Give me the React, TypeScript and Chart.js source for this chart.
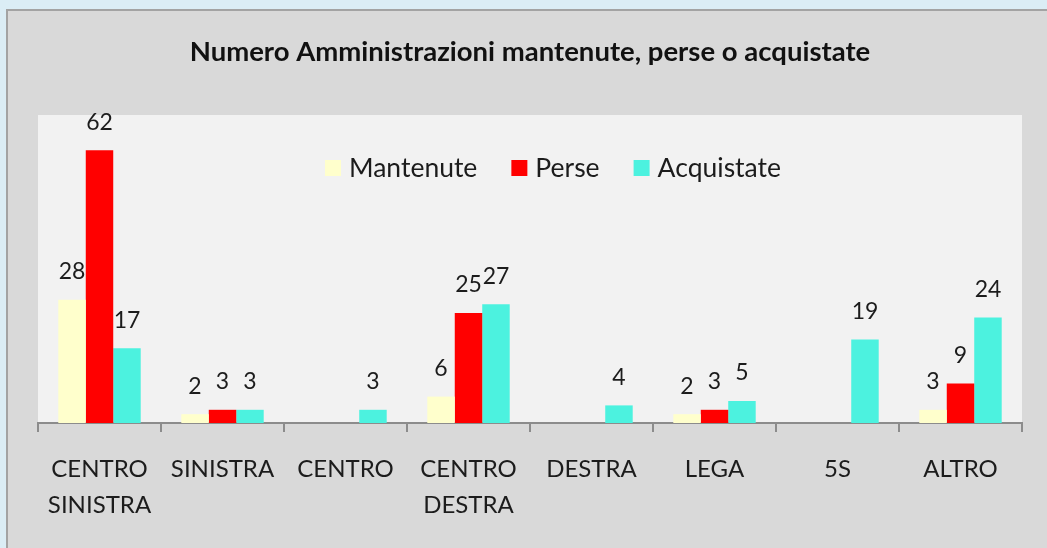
import React, { useEffect, useRef } from "react";
import { Chart, registerables } from "chart.js";

Chart.register(...registerables);

const categories: string[][] = [
  ["CENTRO", "SINISTRA"],
  ["SINISTRA"],
  ["CENTRO"],
  ["CENTRO", "DESTRA"],
  ["DESTRA"],
  ["LEGA"],
  ["5S"],
  ["ALTRO"],
];
const mantenute: (number | null)[] = [28, 2, null, 6, null, 2, null, 3];
const perse: (number | null)[] = [62, 3, null, 25, null, 3, null, 9];
const acquistate: (number | null)[] = [17, 3, 3, 27, 4, 5, 19, 24];
const seriesNames = ["Mantenute", "Perse", "Acquistate"];
const seriesColors = ["#ffffcc", "#ff0000", "#4cf2df"];
const titleText = "Numero Amministrazioni mantenute, perse o acquistate";

const FONT = "Lato, 'Open Sans', sans-serif";

const plotBgPlugin = {
  id: "plotBg",
  beforeDraw(chart: any) {
    const { ctx, chartArea } = chart;
    ctx.save();
    ctx.fillStyle = "#f2f2f2";
    ctx.fillRect(chartArea.left, chartArea.top, chartArea.right - chartArea.left, chartArea.bottom - chartArea.top);
    ctx.restore();
  },
};

const valueLabelPlugin = {
  id: "valueLabels",
  afterDatasetsDraw(chart: any) {
    const { ctx } = chart;
    ctx.save();
    ctx.font = `23px ${FONT}`;
    ctx.fillStyle = "#1c1c1c";
    ctx.textAlign = "center";
    ctx.textBaseline = "middle";
    chart.data.datasets.forEach((ds: any, di: number) => {
      const meta = chart.getDatasetMeta(di);
      meta.data.forEach((el: any, i: number) => {
        const v = ds.data[i];
        if (v === null || v === undefined) return;
        ctx.fillText(String(v), el.x, el.y - 28);
      });
    });
    ctx.restore();
  },
};

const innerLegendPlugin = {
  id: "innerLegend",
  afterDraw(chart: any) {
    const { ctx, chartArea } = chart;
    ctx.save();
    ctx.font = `26.5px ${FONT}`;
    ctx.textBaseline = "middle";
    const box = 16;
    const gapBoxText = 8;
    const gapItems = 34;
    const widths = seriesNames.map((n) => ctx.measureText(n).width);
    const total = widths.reduce((a, w) => a + box + gapBoxText + w, 0) + gapItems * (seriesNames.length - 1);
    const cx = (chartArea.left + chartArea.right) / 2 + 23;
    let x = cx - total / 2;
    const y = chartArea.top + 53;
    seriesNames.forEach((n, i) => {
      ctx.fillStyle = seriesColors[i];
      ctx.fillRect(x, y - box / 2, box, box);
      x += box + gapBoxText;
      ctx.fillStyle = "#1c1c1c";
      ctx.fillText(n, x, y);
      x += widths[i] + gapItems;
    });
    ctx.restore();
  },
};

export default function App() {
  const ref = useRef<HTMLCanvasElement | null>(null);

  useEffect(() => {
    if (!ref.current) return;
    const chart = new Chart(ref.current, {
      type: "bar",
      data: {
        labels: categories,
        datasets: [
          { label: seriesNames[0], data: mantenute, backgroundColor: seriesColors[0] },
          { label: seriesNames[1], data: perse, backgroundColor: seriesColors[1] },
          { label: seriesNames[2], data: acquistate, backgroundColor: seriesColors[2] },
        ],
      },
      options: {
        responsive: false,
        animation: false,
        layout: { padding: { left: 30, right: 25, top: 0, bottom: 6 } },
        datasets: { bar: { categoryPercentage: 0.67, barPercentage: 1 } },
        plugins: {
          legend: { display: false },
          tooltip: { enabled: false },
          title: {
            display: true,
            text: titleText,
            color: "#111111",
            font: { family: FONT, size: 27.5, weight: "bold", lineHeight: 1.2 },
            padding: { top: 25, bottom: 46 },
          },
        },
        scales: {
          x: {
            offset: true,
            grid: {
              offset: true,
              drawOnChartArea: false,
              drawTicks: true,
              tickLength: 9,
              color: "#8c8c8c",
              lineWidth: 2,
            },
            border: { display: true, color: "#8c8c8c", width: 2 },
            ticks: {
              color: "#1c1c1c",
              padding: 19,
              maxRotation: 0,
              autoSkip: false,
              font: { family: FONT, size: 24, lineHeight: 1.5 },
            },
          },
          y: {
            display: false,
            min: 0,
            max: 70,
          },
        },
      },
      plugins: [plotBgPlugin, valueLabelPlugin, innerLegendPlugin],
    });
    return () => chart.destroy();
  }, []);

  return (
    <div style={{ position: "fixed", left: 0, top: 0, width: 1047, height: 548, overflow: "hidden", background: "#dbedf5" }}>
      <div
        style={{
          position: "absolute",
          left: 6,
          top: 9,
          width: 1080,
          height: 580,
          borderTop: "2px solid #a3a3a3",
          borderLeft: "2px solid #a3a3a3",
          background: "#d9d9d9",
        }}
      >
        <canvas ref={ref} width={1039} height={537} style={{ display: "block" }} />
      </div>
    </div>
  );
}
